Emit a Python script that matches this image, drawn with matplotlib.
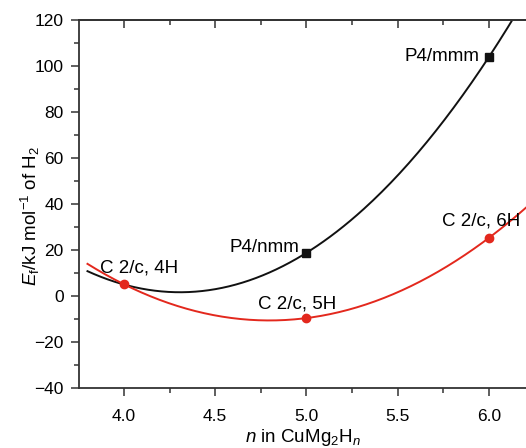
import numpy as np
import matplotlib
matplotlib.use("Agg")
import matplotlib.pyplot as plt
from matplotlib.ticker import MultipleLocator

plt.rcParams["font.family"] = ["Liberation Sans", "DejaVu Sans"]
plt.rcParams["mathtext.fontset"] = "custom"
plt.rcParams["mathtext.rm"] = "Liberation Sans"
plt.rcParams["mathtext.it"] = "Liberation Sans:italic"

# P4 structures (black squares); the n=4 point sits under the red marker
black_n = [4.0, 5.0, 6.0]
black_e = [5.0, 18.8, 104.0]
black_labels = ["", "P4/nmm", "P4/mmm"]

# C 2/c structures (red circles)
red_n = [4.0, 5.0, 6.0]
red_e = [5.1, -9.6, 25.3]
red_labels = ["C 2/c, 4H", "C 2/c, 5H", "C 2/c, 6H"]

BLACK = "#111111"
RED = "#e3281d"
AXIS = "#333333"
LBL = 13.5
XLIM = (3.753, 6.203)

fig = plt.figure(figsize=(5.26, 4.48), dpi=100)
ax = fig.add_axes([0.150, 0.134, 0.850, 0.821])

xs = np.linspace(3.8, 6.25, 200)
black_fit = np.polyfit(black_n, black_e, 2)
red_fit = np.polyfit(red_n, red_e, 2)
ax.plot(xs, np.polyval(black_fit, xs), color=BLACK, lw=1.4, zorder=2)
ax.plot(xs, np.polyval(red_fit, xs), color=RED, lw=1.4, zorder=3)

ax.plot(black_n[1:], black_e[1:], "s", color=BLACK, ms=5.5, zorder=4)
ax.plot(red_n, red_e, "o", color=RED, ms=6, zorder=5)

# labels
ax.text(5.95, 104.0, black_labels[2], ha="right", va="center", fontsize=LBL)
ax.text(4.963, 21.3, black_labels[1], ha="right", va="center", fontsize=LBL)
ax.text(3.868, 12.2, red_labels[0], ha="left", va="center", fontsize=LBL)
ax.text(4.734, -3.5, red_labels[1], ha="left", va="center", fontsize=LBL)
ax.text(5.743, 32.6, red_labels[2], ha="left", va="center", fontsize=LBL)

ax.set_xlim(*XLIM)
ax.set_ylim(-40, 120)
ax.xaxis.set_major_locator(MultipleLocator(0.5))
ax.xaxis.set_minor_locator(MultipleLocator(0.25))
ax.yaxis.set_major_locator(MultipleLocator(20))
ax.yaxis.set_minor_locator(MultipleLocator(10))
ax.xaxis.set_major_formatter(matplotlib.ticker.FormatStrFormatter("%.1f"))
ax.yaxis.set_major_formatter(
    matplotlib.ticker.FuncFormatter(lambda v, p: f"{v:.0f}".replace("-", "\u2212"))
)

ax.spines["right"].set_visible(False)
for s in ("left", "bottom", "top"):
    ax.spines[s].set_linewidth(1.3)
    ax.spines[s].set_color(AXIS)
ax.tick_params(which="both", direction="out", labelsize=12.5, width=1.1,
               color=AXIS)
ax.tick_params(which="major", length=6)
ax.tick_params(which="minor", length=3.5)
ax.tick_params(axis="x", which="major", pad=9)
ax.tick_params(axis="y", which="major", pad=5)

# top spine ticks point into the plot
top = ax.twiny()
top.set_xlim(*XLIM)
top.xaxis.set_major_locator(MultipleLocator(0.5))
top.xaxis.set_minor_locator(MultipleLocator(0.25))
top.tick_params(which="both", direction="in", labeltop=False, width=1.1,
                color=AXIS)
top.tick_params(which="major", length=6)
top.tick_params(which="minor", length=3.5)
for s in ("right", "left", "bottom"):
    top.spines[s].set_visible(False)
top.spines["top"].set_linewidth(1.3)
top.spines["top"].set_color(AXIS)

ax.set_xlabel("$n$ in CuMg$_2$H$_n$", fontsize=13.5, labelpad=2)
ax.set_ylabel("$E_\\mathrm{f}$/kJ mol$^{-1}$ of H$_2$", fontsize=13.5)
ax.yaxis.set_label_coords(-0.082, 0.467)

fig.savefig("out.png", dpi=100)
